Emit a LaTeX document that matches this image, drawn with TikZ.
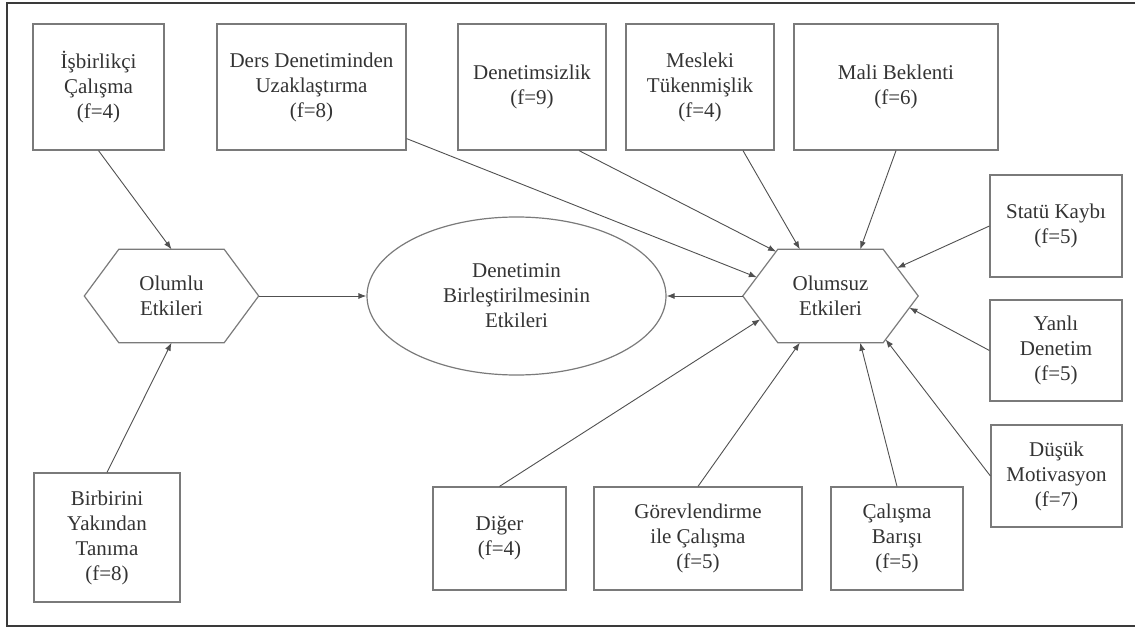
\documentclass[tikz,border=0pt]{standalone}
\usepackage{fontspec}
\setmainfont{Liberation Serif}
\usetikzlibrary{shapes.geometric,arrows.meta,calc}
\definecolor{boxc}{HTML}{7A7A7A}
\definecolor{txt}{HTML}{333333}
\definecolor{linec}{HTML}{505050}
\definecolor{framec}{HTML}{3A3A3A}
\begin{document}
\begin{tikzpicture}[x=1pt,y=-1pt,
  every node/.style={font=\fontsize{21}{25}\selectfont, text=txt, align=center},
  bx/.style 2 args={draw=boxc, line width=1.2pt, minimum width=#1pt, minimum height=#2pt, inner sep=0pt},
  hexin/.style={inner sep=0pt, minimum width=105pt, minimum height=93pt},
  hexc/.style={draw=boxc, line width=1.2pt},
  arr/.style={draw=linec, line width=0.9pt, -{Latex[length=8pt,width=6pt]}}]
\useasboundingbox (0,0) rectangle (1135,628);
\draw[framec, line width=1.8pt] (1135,3) -- (7,3) -- (7,626) -- (1135,626);

% top row
\node[bx={131}{126}] (isb) at (98.5,87) {İşbirlikçi\\Çalışma\\(f=4)};
\node[bx={189}{126}] (ders) at (311.5,87) {Ders Denetiminden\\Uzaklaştırma\\(f=8)};
\node[bx={148}{126}] (dnt) at (532,87) {Denetimsizlik\\(f=9)};
\node[bx={148}{126}] (mes) at (700,87) {Mesleki\\Tükenmişlik\\(f=4)};
\node[bx={204}{126}] (mali) at (896,87) {Mali Beklenti\\(f=6)};
% right column
\node[bx={132}{102}] (sta) at (1056,226) {Statü Kaybı\\(f=5)};
\node[bx={132}{101}] (yan) at (1056,350.5) {Yanlı\\Denetim\\(f=5)};
\node[bx={131}{102}] (dus) at (1056.5,476) {Düşük\\Motivasyon\\(f=7)};
% bottom row
\node[bx={146}{129}] (bir) at (107,537.5) {Birbirini\\Yakından\\Tanıma\\(f=8)};
\node[bx={133}{103}] (dig) at (499.5,538.5) {Diğer\\(f=4)};
\node[bx={208}{103}] (gor) at (698,538.5) {Görevlendirme\\ile Çalışma\\(f=5)};
\node[bx={132}{103}] (cal) at (897,538.5) {Çalışma\\Barışı\\(f=5)};

% ellipse
\node[ellipse, draw=boxc, line width=1.2pt, minimum width=299pt, minimum height=158pt, inner sep=0pt] (ell) at (516.5,296) {Denetimin\\Birleştirilmesinin\\Etkileri};

% hexagons
\node[hexin] (pos) at (171.5,296) {Olumlu\\Etkileri};
\coordinate (posL) at ($(pos.west)+(-34.5,0)$);
\coordinate (posR) at ($(pos.east)+(34.5,0)$);
\draw[hexc] (pos.north west) -- (pos.north east) -- (posR) -- (pos.south east) -- (pos.south west) -- (posL) -- cycle;

\node[hexin] (neg) at (830.5,296) {Olumsuz\\Etkileri};
\coordinate (negL) at ($(neg.west)+(-35,0)$);
\coordinate (negR) at ($(neg.east)+(35,0)$);
\draw[hexc] (neg.north west) -- (neg.north east) -- (negR) -- (neg.south east) -- (neg.south west) -- (negL) -- cycle;

% connectors
\draw[arr] (isb.south) -- (pos.north);
\draw[arr] (bir.north) -- (pos.south);
\draw[arr] (posR) -- (ell.west);
\draw[arr] (negL) -- (ell.east);

\draw[arr] ($(ders.south east)+(0,-12)$) -- ($(negL)!0.4!(neg.north west)$);
\draw[arr] ($(dnt.south)+(47,0)$) -- ($(negL)!0.95!(neg.north west)$);
\draw[arr] ($(mes.south)+(43,0)$) -- ($(neg.north west)+(22,0)$);
\draw[arr] (mali.south) -- ($(neg.north east)+(-23,0)$);
\draw[arr] (sta.west) -- ($(neg.north east)!0.4!(negR)$);
\draw[arr] (yan.west) -- ($(negR)!0.25!(neg.south east)$);
\draw[arr] (dus.west) -- ($(negR)!0.93!(neg.south east)$);
\draw[arr] (cal.north) -- ($(neg.south east)+(-23,0)$);
\draw[arr] (gor.north) -- ($(neg.south west)+(22,0)$);
\draw[arr] (dig.north) -- ($(negL)!0.5!(neg.south west)$);
\end{tikzpicture}
\end{document}
